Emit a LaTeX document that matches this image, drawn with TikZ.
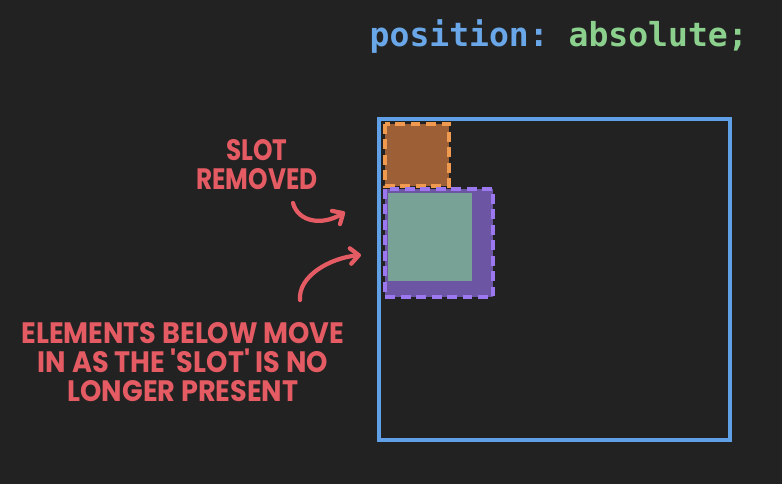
\documentclass[tikz,border=0pt]{standalone}
\usepackage{fontspec}
\setmonofont{DejaVu Sans Mono}
\newfontfamily\handfont{Poppins}
\usetikzlibrary{arrows.meta}
\definecolor{bg}{HTML}{222222}
\definecolor{codeblue}{HTML}{6AA7E9}
\definecolor{codegreen}{HTML}{8CD08E}
\definecolor{boxblue}{HTML}{5FA0E6}
\definecolor{slotfill}{HTML}{9C5F36}
\definecolor{slotline}{HTML}{F09A50}
\definecolor{elfill}{HTML}{6C56A4}
\definecolor{elline}{HTML}{9B78F0}
\definecolor{elinner}{HTML}{79A296}
\definecolor{note}{HTML}{E45B63}

\begin{document}
\begin{tikzpicture}[x=0.025cm, y=-0.025cm,
    dashbox/.style={line width=2.6pt, dash pattern=on 7pt off 4pt},
    notetext/.style={text=note, font=\handfont\bfseries\fontsize{21}{20.5}\selectfont, align=center, inner sep=0pt},
    notearrow/.style={draw=note, line width=3pt, line cap=round, -{Straight Barb[round, length=6pt, width=11pt]}}]
        % Background
        \fill[bg] (0,0) rectangle (782,484);
        \useasboundingbox (0,0) rectangle (782,484);

        % Code line
        \node[anchor=base east, inner sep=0pt, font=\ttfamily\bfseries\fontsize{23.5}{28}\selectfont] (code) at (748,47)
            {\textcolor{codeblue}{position:} \textcolor{codegreen}{absolute;}};

        % Container
        \draw[boxblue, line width=2.3pt] (379,119) rectangle (730,440);

        % Slot (removed)
        \filldraw[fill=slotfill, draw=slotline, dashbox] (385,124) rectangle (449,186);

        % Elements below
        \filldraw[fill=elfill, draw=elline, dashbox] (385,189) rectangle (493,297);
        \fill[elinner] (388,193) rectangle (472,281);

        % Notes
        \node[notetext, xscale=0.84] (slot) at (257,165) {SLOT\\REMOVED};
        \node[notetext, xscale=0.92] (below) at (183,362) {ELEMENTS BELOW MOVE\\IN AS THE \textquotesingle SLOT\textquotesingle\ IS NO\\LONGER PRESENT};

        % Arrows
        \coordinate (s1) at (293,203);
        \coordinate (e1) at (345,212);
        \coordinate (s2) at (300,300);
        \coordinate (e2) at (361,255);
        \draw[notearrow] (s1) .. controls (298,222) and (322,226) .. (e1);
        \draw[notearrow] (s2) .. controls (298,276) and (330,258) .. (e2);
\end{tikzpicture}
\end{document}
